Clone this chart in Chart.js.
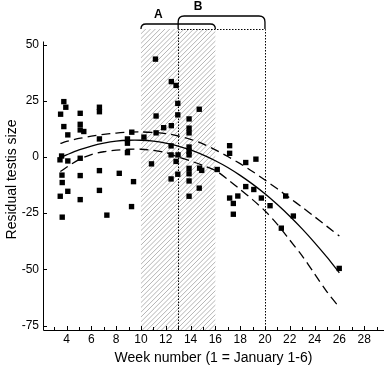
<!DOCTYPE html>
<html><head><meta charset="utf-8">
<script src="https://cdn.jsdelivr.net/npm/chart.js@4.4.0/dist/chart.umd.min.js"></script>
<style>html,body{margin:0;padding:0;background:#fff}</style>
</head><body><canvas id="c" width="388" height="365"></canvas>
<script>
const pointWeeks = [3.78,3.94,3.52,5.10,6.65,6.65,3.78,5.10,4.10,5.10,5.39,6.65,9.26,8.91,8.91,10.24,8.91,3.60,3.47,4.10,5.10,6.65,8.25,3.63,5.10,9.40,3.65,4.10,6.65,3.49,5.10,9.24,3.65,7.25,
 11.17,12.45,12.83,12.97,14.70,11.22,12.97,13.88,12.45,11.83,13.88,13.88,11.22,12.43,13.88,13.88,13.88,12.43,12.99,12.83,10.85,12.97,13.88,13.88,14.73,14.90,16.15,12.43,13.88,14.70,13.88,
 17.15,17.15,18.45,19.27,18.45,19.10,17.81,17.15,17.45,19.71,20.41,17.45,21.67,22.29,21.32,25.99];
const pointValues = [24.6,22.1,19.0,19.4,22.1,20.1,13.5,14.5,9.8,12.0,11.3,8.0,11.0,8.0,6.1,8.8,1.9,0.4,-1.3,-1.8,-0.6,-6.1,-7.3,-8.1,-8.3,-11.0,-11.4,-15.3,-14.9,-17.5,-19.0,-22.1,-26.8,-25.9,
 43.5,33.5,31.8,23.8,21.2,18.2,18.7,16.9,13.9,13.0,12.8,10.7,10.7,4.9,4.4,2.5,0.9,0.9,0.9,-2.0,-3.1,-7.7,-5.1,-7.5,-5.0,-6.0,-5.6,-9.8,-10.7,-13.9,-17.5,
 5.0,1.6,-2.5,-1.0,-13.2,-14.5,-17.4,-18.3,-20.7,-18.3,-21.7,-25.5,-17.4,-26.3,-31.7,-49.6];
const fitWeeks = [3.5,4,5,6,7,8,9,10,11,12,13,14,15,16,17,18,19,20,21,22,23,24,25,26];
const fitValues = [-0.3,0.9,3.1,4.8,6.1,7.0,7.4,7.4,7.0,6.1,4.8,3.1,0.9,-1.7,-4.7,-8.2,-12.1,-16.4,-21.2,-26.4,-32.0,-38.1,-44.6,-51.6];
const upperValues = [6.0,6.9,8.2,9.2,10.0,10.6,11.0,11.1,10.9,10.4,9.3,7.8,5.8,3.1,0.2,-3.0,-6.5,-10.3,-14.2,-18.3,-22.4,-26.6,-30.9,-35.2];
const lowerValues = [-6.5,-4.6,-1.2,1.0,2.3,3.0,3.4,3.4,2.9,1.9,0.0,-1.8,-3.8,-6.0,-10.0,-14.5,-19.0,-24.0,-30.0,-37.0,-44.0,-52.0,-60.0,-67.0];
const xTickLabels = [4,6,8,10,12,14,16,18,20,22,24,26,28];
const xMinorTicks = [3,5,7,9,11,13,15,17,19,21,23,25,27,29];
const yTickLabels = [50,25,0,-25,-50,-75];
const windowA = [10,16];
const windowB = [13,20];
const labelA = 'A', labelB = 'B';

const curve = vals => fitWeeks.map((w,i)=>({x:w,y:vals[i]}));

const deco = {
  id:'deco',
  beforeDatasetsDraw(chart){
    const {ctx, chartArea:ca, scales:{x,y}} = chart;
    const ax0 = x.getPixelForValue(windowA[0]), ax1 = x.getPixelForValue(windowA[1]);
    ctx.save();
    ctx.beginPath(); ctx.rect(ax0, ca.top, ax1-ax0, ca.bottom-ca.top); ctx.clip();
    ctx.strokeStyle = '#b4b4b4'; ctx.lineWidth = 1;
    const h = ca.bottom - ca.top;
    for(let o = ax0 - h; o < ax1 + 5; o += 4.8){
      ctx.beginPath(); ctx.moveTo(o, ca.bottom); ctx.lineTo(o + h, ca.top); ctx.stroke();
    }
    ctx.restore();
    const bx0 = x.getPixelForValue(windowB[0]), bx1 = x.getPixelForValue(windowB[1]);
    ctx.save();
    ctx.strokeStyle = '#000'; ctx.lineWidth = 1; ctx.setLineDash([1.5,1.5]);
    ctx.beginPath();
    ctx.moveTo(Math.round(bx0)+0.5, ca.bottom); ctx.lineTo(Math.round(bx0)+0.5, ca.top+0.5);
    ctx.lineTo(Math.round(bx1)+0.5, ca.top+0.5); ctx.lineTo(Math.round(bx1)+0.5, ca.bottom);
    ctx.stroke();
    ctx.restore();
  },
  afterDraw(chart){
    const {ctx, chartArea:ca, scales:{x,y}} = chart;
    ctx.save();
    ctx.strokeStyle = '#000'; ctx.lineWidth = 1;
    const yTop = y.getPixelForValue(yTickLabels[0]) - 3;
    ctx.beginPath();
    ctx.moveTo(ca.left+0.5, yTop); ctx.lineTo(ca.left+0.5, ca.bottom+0.5);
    ctx.lineTo(ca.right, ca.bottom+0.5);
    ctx.stroke();
    yTickLabels.forEach(v=>{
      const py = Math.round(y.getPixelForValue(v))+0.5;
      ctx.beginPath(); ctx.moveTo(ca.left, py); ctx.lineTo(ca.left+4, py); ctx.stroke();
    });
    xTickLabels.forEach(v=>{
      const px = Math.round(x.getPixelForValue(v))+0.5;
      ctx.beginPath(); ctx.moveTo(px, ca.bottom); ctx.lineTo(px, ca.bottom-4); ctx.stroke();
    });
    xMinorTicks.forEach(v=>{
      const px = Math.round(x.getPixelForValue(v))+0.5;
      if(px > ca.right) return;
      ctx.beginPath(); ctx.moveTo(px, ca.bottom); ctx.lineTo(px, ca.bottom-3); ctx.stroke();
    });
    ctx.lineWidth = 1.3;
    const bracket = (w0, w1, yy, r) => {
      const p0 = x.getPixelForValue(w0), p1 = x.getPixelForValue(w1);
      const base = ca.top;
      ctx.beginPath();
      ctx.moveTo(p0, base);
      ctx.lineTo(p0, yy + r);
      ctx.quadraticCurveTo(p0, yy, p0 + r, yy);
      ctx.lineTo(p1 - r, yy);
      ctx.quadraticCurveTo(p1, yy, p1, yy + r);
      ctx.lineTo(p1, base);
      ctx.stroke();
    };
    bracket(windowA[0], windowA[1], ca.top - 5, 5);
    bracket(windowB[0], windowB[1], ca.top - 13, 6);
    ctx.fillStyle = '#000';
    ctx.font = 'bold 12px "Liberation Sans", Arial, sans-serif';
    ctx.textAlign = 'center'; ctx.textBaseline = 'middle';
    ctx.fillText(labelA, x.getPixelForValue(11.4), ca.top - 14);
    ctx.fillText(labelB, x.getPixelForValue(14.6), ca.top - 22);
    ctx.restore();
  }
};

const font = '"Liberation Sans", Arial, sans-serif';
new Chart(document.getElementById('c'), {
  type: 'scatter',
  data: {
    datasets: [
      {data: pointWeeks.map((w,i)=>({x:w,y:pointValues[i]})), pointStyle:'rect', pointRadius:3.8,
       backgroundColor:'#000', borderColor:'#000', borderWidth:0},
      {data: curve(fitValues), showLine:true, pointRadius:0, borderColor:'#000', borderWidth:1.3, tension:0.3, fill:false},
      {data: curve(upperValues), showLine:true, pointRadius:0, borderColor:'#000', borderWidth:1.3, borderDash:[9,5], tension:0.3, fill:false},
      {data: curve(lowerValues), showLine:true, pointRadius:0, borderColor:'#000', borderWidth:1.3, borderDash:[9,5], tension:0.3, fill:false}
    ]
  },
  options: {
    responsive:false, animation:false, devicePixelRatio:1,
    layout:{padding:{top:29, right:0, left:0, bottom:0}},
    plugins:{legend:{display:false}, tooltip:{enabled:false}},
    scales:{
      x:{type:'linear', min:2.1, max:29.6,
         grid:{display:false, drawTicks:false}, border:{display:false},
         afterBuildTicks:s=>{s.ticks = xTickLabels.map(v=>({value:v}));},
         afterFit:s=>{s.height = 35;},
         ticks:{autoSkip:false, maxRotation:0, color:'#000', font:{family:font, size:12}, padding:2},
         title:{display:true, text:'Week number (1 = January 1-6)', color:'#000', font:{family:font, size:14}, padding:{top:0,bottom:-2}}},
      y:{type:'linear', min:-77, max:56.9,
         grid:{display:false, drawTicks:false}, border:{display:false},
         afterBuildTicks:s=>{s.ticks = yTickLabels.map(v=>({value:v}));},
         afterFit:s=>{s.width = 43;},
         ticks:{autoSkip:false, color:'#000', font:{family:font, size:12}, padding:4},
         title:{display:true, text:'Residual testis size', color:'#000', font:{family:font, size:14}, padding:{top:4,bottom:0}}}
    }
  },
  plugins:[deco]
});
</script></body></html>
